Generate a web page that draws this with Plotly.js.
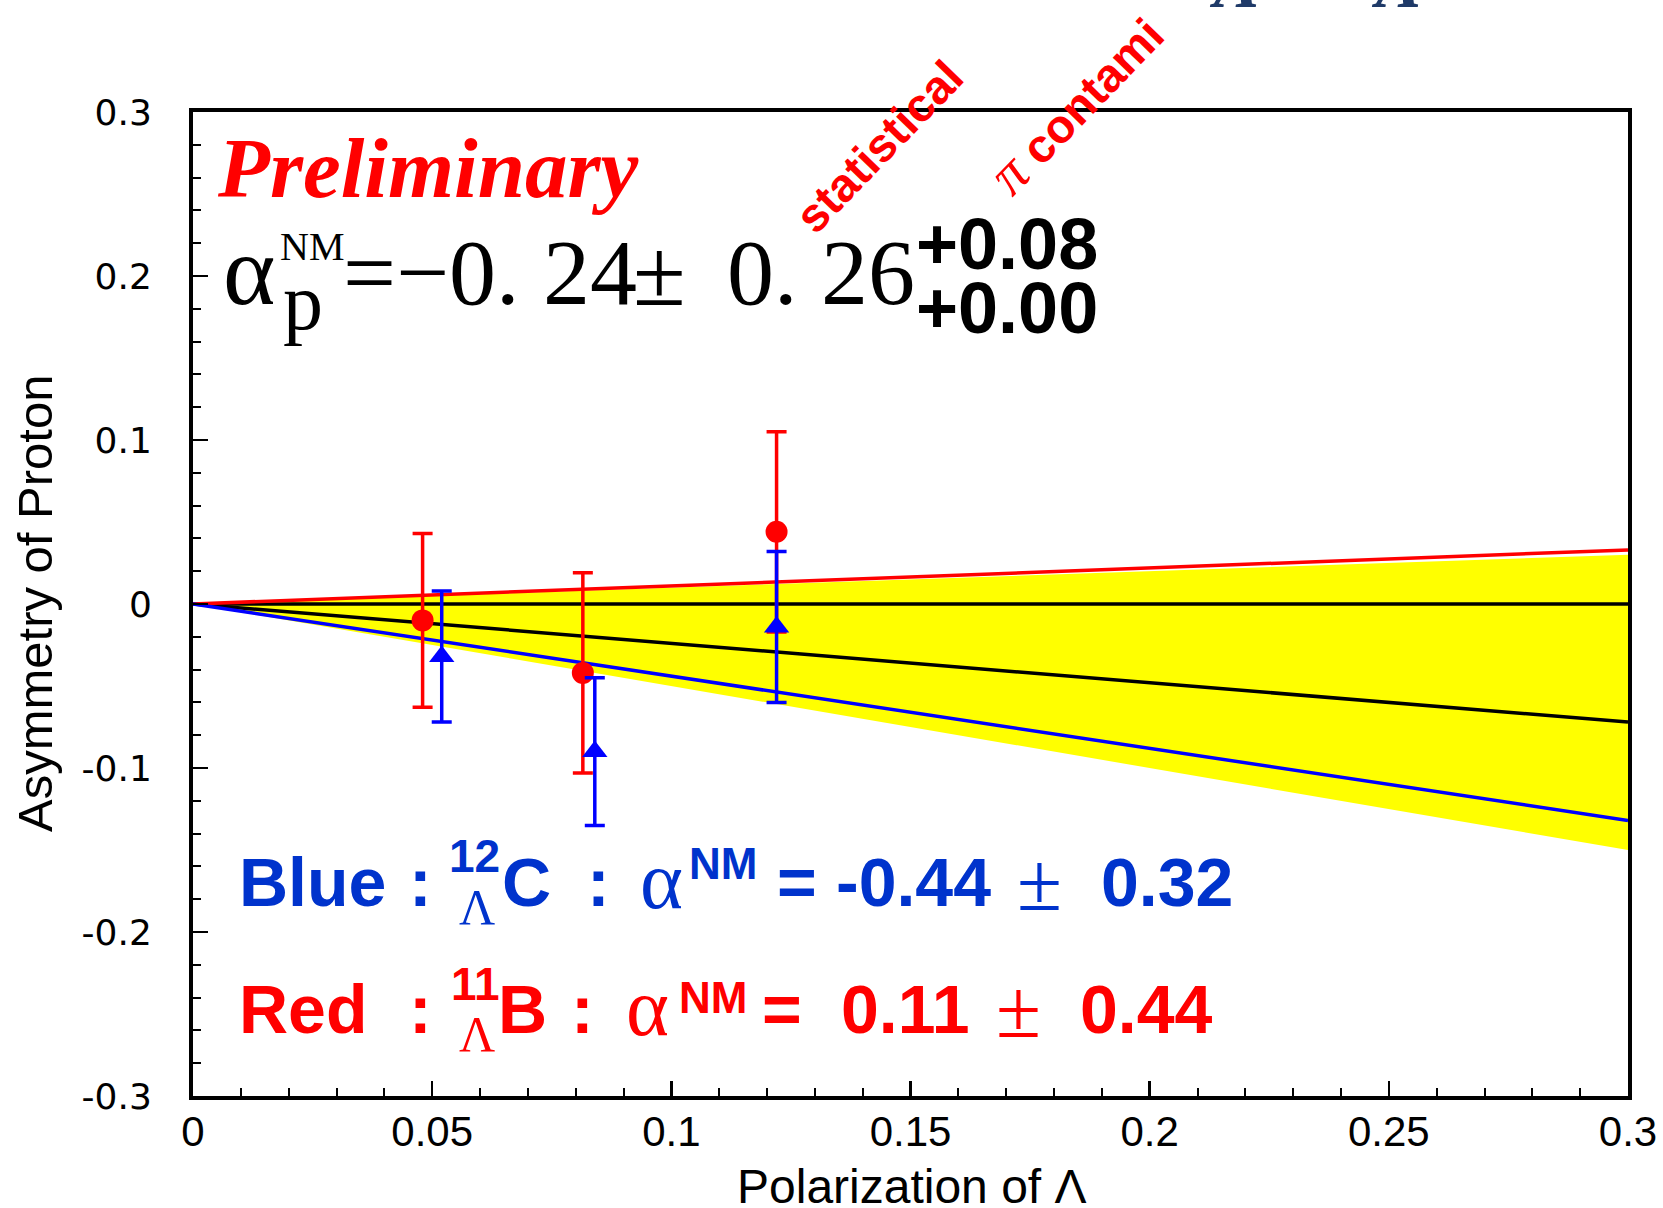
<!DOCTYPE html>
<html><head><meta charset="utf-8">
<script src="https://cdn.plot.ly/plotly-3.0.1.min.js"></script>
<style>html,body{margin:0;padding:0;background:#fff;} #chart{width:1663px;height:1208px;}</style>
</head><body><div id="chart"></div>
<script>
// ---- data ----
const redX = [0.048, 0.0815, 0.122];
const redY = [-0.010, -0.042, 0.044];
const redErr = [0.053, 0.061, 0.061];
const blueX = [0.052, 0.084, 0.122];
const blueY = [-0.032, -0.090, -0.014];
const blueErr = [0.040, 0.045, 0.046];
const fitX = [0, 0.3];
const zeroLine = [0, 0];
const fitAll = [0, -0.072];
const fitRed = [0, 0.033];
const fitBlue = [0, -0.132];
const bandUpper = [0, 0.030];
const bandLower = [0, -0.150];
const xTickVals = [0, 0.05, 0.1, 0.15, 0.2, 0.25, 0.3];
const xTickText = ['0', '0.05', '0.1', '0.15', '0.2', '0.25', '0.3'];
const yTickVals = [-0.3, -0.2, -0.1, 0, 0.1, 0.2, 0.3];
const yTickText = ['-0.3', '-0.2', '-0.1', '0', '0.1', '0.2', '0.3'];

// ---- geometry ----
const W = 1663, H = 1208;
const ML = 193, MR = 35, MT = 112, MB = 112;
const PW = W - ML - MR, PH = H - MT - MB;
const px = x => (x - ML) / PW;
const py = y => (H - MB - y) / PH;

const RED = '#ff0000', BLUE = '#0000ff', TBLUE = '#0033cc';
const SANS = 'Liberation Sans, Arial, sans-serif';
const SERIF = 'Liberation Serif, Times New Roman, serif';

function ann(text, x, y, o) {
  o = o || {};
  return {
    text: text, x: px(x), y: py(y), xref: 'paper', yref: 'paper', showarrow: false,
    xanchor: o.xa || 'left', yanchor: o.ya || 'middle', textangle: o.angle || 0,
    borderpad: 0, borderwidth: 0,
    font: {family: o.family || SANS, size: o.size || 68, color: o.color || '#000',
           weight: o.weight || 'normal', style: o.style || 'normal'}
  };
}

const annotations = [
  // cut-off title at top
  ann('Λ', 1235, -16, {xa: 'center', family: SERIF, size: 70, color: '#1f3a68', weight: 'bold', style: 'italic'}),
  ann('Λ', 1397, -16, {xa: 'center', family: SERIF, size: 70, color: '#1f3a68', weight: 'bold', style: 'italic'}),
  // Preliminary
  ann('Preliminary', 217, 168, {family: SERIF, size: 85, color: RED, weight: 'bold', style: 'italic'}),
  // formula
  ann('α', 223, 270, {family: SERIF, size: 100}),
  ann('NM', 280, 246, {family: SERIF, size: 40}),
  ann('p', 283, 302, {family: SERIF, size: 80}),
  ann('=−0. 24', 343, 272, {family: SERIF, size: 94}),
  ann('±', 633, 272, {family: SERIF, size: 96}),
  ann('0. 26', 727, 272, {family: SERIF, size: 94}),
  ann('+0.08', 916, 244, {size: 72, weight: 'bold'}),
  ann('+0.00', 916, 308, {size: 72, weight: 'bold'}),
  // rotated labels
  ann('statistical', 879, 147, {xa: 'center', size: 47, weight: 'bold', color: RED, angle: -46}),
  ann('<span style="font-family:Liberation Serif;font-style:italic;font-weight:normal;font-size:58px">π</span> contami', 1075, 104,
      {xa: 'center', size: 47, weight: 'bold', color: RED, angle: -46}),
  // Blue line
  ann('Blue', 239, 882, {weight: 'bold', color: TBLUE}),
  ann(':', 409, 882, {weight: 'bold', color: TBLUE}),
  ann('12', 449, 856, {size: 46, weight: 'bold', color: TBLUE}),
  ann('Λ', 459, 907, {family: SERIF, size: 50, color: TBLUE}),
  ann('C', 502, 882, {weight: 'bold', color: TBLUE}),
  ann(':', 587, 882, {weight: 'bold', color: TBLUE}),
  ann('α', 640, 880, {family: SERIF, size: 82, color: TBLUE}),
  ann('NM', 689, 864, {size: 44, weight: 'bold', color: TBLUE}),
  ann('=', 777, 882, {weight: 'bold', color: TBLUE}),
  ann('-0.44', 836, 882, {weight: 'bold', color: TBLUE}),
  ann('±', 1017, 882, {family: SERIF, size: 82, color: TBLUE}),
  ann('0.32', 1101, 882, {weight: 'bold', color: TBLUE}),
  // Red line
  ann('Red', 239, 1009, {weight: 'bold', color: RED}),
  ann(':', 409, 1009, {weight: 'bold', color: RED}),
  ann('11', 451, 984, {size: 46, weight: 'bold', color: RED}),
  ann('Λ', 459, 1034, {family: SERIF, size: 50, color: RED}),
  ann('B', 498, 1009, {weight: 'bold', color: RED}),
  ann(':', 571, 1009, {weight: 'bold', color: RED}),
  ann('α', 626, 1007, {family: SERIF, size: 82, color: RED}),
  ann('NM', 679, 997, {size: 44, weight: 'bold', color: RED}),
  ann('=', 762, 1009, {weight: 'bold', color: RED}),
  ann('0.11', 841, 1009, {weight: 'bold', color: RED}),
  ann('±', 996, 1009, {family: SERIF, size: 82, color: RED}),
  ann('0.44', 1080, 1009, {weight: 'bold', color: RED}),
  // axis titles
  ann('Polarization of Λ', 912, 1186, {xa: 'center', size: 48}),
  ann('Asymmetry of Proton', 35, 604, {xa: 'center', size: 49, angle: -90})
];

const traces = [
  {x: fitX, y: bandLower, mode: 'lines', line: {width: 0, color: '#ffff00'}, hoverinfo: 'skip'},
  {x: fitX, y: bandUpper, mode: 'lines', line: {width: 0, color: '#ffff00'}, fill: 'tonexty', fillcolor: '#ffff00', hoverinfo: 'skip'},
  {x: fitX, y: zeroLine, mode: 'lines', line: {width: 3.5, color: '#000'}},
  {x: fitX, y: fitAll, mode: 'lines', line: {width: 3.5, color: '#000'}},
  {x: fitX, y: fitRed, mode: 'lines', line: {width: 3.5, color: RED}},
  {x: fitX, y: fitBlue, mode: 'lines', line: {width: 3.5, color: BLUE}},
  {x: redX, y: redY, mode: 'markers', marker: {symbol: 'circle', size: 22, color: RED},
   error_y: {type: 'data', array: redErr, visible: true, color: RED, thickness: 3.5, width: 10}},
  {x: blueX, y: blueY, mode: 'markers', marker: {symbol: 'triangle-up', size: 22, color: BLUE},
   error_y: {type: 'data', array: blueErr, visible: true, color: BLUE, thickness: 3.5, width: 10}}
];

const axisCommon = {
  showgrid: false, zeroline: false, showline: true, linewidth: 4, linecolor: '#000', mirror: true,
  ticks: 'inside', ticklen: 15, tickwidth: 2.5, tickcolor: '#000', tickmode: 'array'
};

const layout = {
  width: W, height: H,
  margin: {l: ML, r: MR, t: MT, b: MB, pad: 0},
  paper_bgcolor: '#fff', plot_bgcolor: '#fff',
  showlegend: false, hovermode: false,
  xaxis: Object.assign({}, axisCommon, {
    range: [0, 0.3], tickvals: xTickVals, ticktext: xTickText, ticklabelstandoff: -4,
    tickfont: {family: SANS, size: 42, color: '#000'},
    minor: {tickmode: 'linear', tick0: 0, dtick: 0.01, ticks: 'inside', ticklen: 8, tickwidth: 2, tickcolor: '#000', showgrid: false}
  }),
  yaxis: Object.assign({}, axisCommon, {
    range: [-0.3, 0.3], tickvals: yTickVals, ticktext: yTickText, ticklabelstandoff: 30,
    tickfont: {family: 'DejaVu Sans, sans-serif', size: 36, color: '#000'},
    minor: {tickmode: 'linear', tick0: 0, dtick: 0.02, ticks: 'inside', ticklen: 8, tickwidth: 2, tickcolor: '#000', showgrid: false}
  }),
  annotations: annotations
};

Plotly.newPlot('chart', traces, layout, {staticPlot: true, displayModeBar: false});
</script>
</body></html>
